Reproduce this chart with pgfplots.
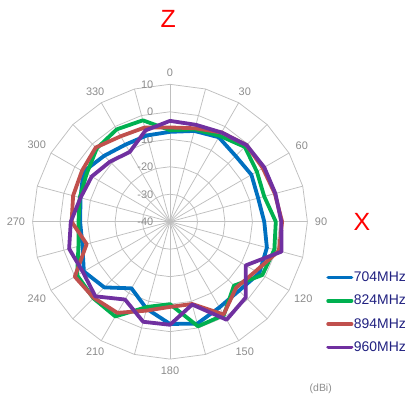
\documentclass[border=0pt]{standalone}
\usepackage{fontspec}
\setmainfont{Liberation Sans}
\usepackage{pgfplots}
\pgfplotsset{compat=1.18}
\usepackage{pgfplotstable}
\definecolor{c704}{RGB}{0,112,192}
\definecolor{c824}{RGB}{0,176,80}
\definecolor{c894}{RGB}{192,80,77}
\definecolor{c960}{RGB}{112,48,160}
\definecolor{gridc}{RGB}{191,191,191}
\definecolor{labc}{RGB}{140,140,140}
\definecolor{legc}{RGB}{32,32,128}

\pgfplotstableread{
a   v704   v824   v894   v960
0   -7.3   -6.7   -5.7   -3.3
15  -5.8   -5.2   -4.8   -3.5
30  -4.5   -3.9   -2.5   -2.5
45  -6.2   -1.5   -0.6   -0.6
60  -5.8   -3.5   -1.0   -0.4
75  -6.8   -4.5   -0.5   -0.3
90  -5.7   -1.5    0.8    0.5
105 -3.5   -0.7    1.0    2.0
120 -2.5   -1.2   -4.0   -8.2
135 -4.5   -7.1   -6.0   -1.0
150 -4.0   -0.8   -1.0    1.2
165 -1.6   -0.6   -9.0   -8.8
180 -2.8  -10.0   -9.0   -2.5
195 -7.2   -7.9   -6.5   -2.3
210 -12.0  -0.2   -1.7   -7.3
225 -6.2   -0.6   -0.8   -1.6
240 -3.8   -1.0    0.0   -3.4
255 -7.0   -5.5   -8.6   -2.0
270 -7.3   -6.7   -4.2   -3.9
285 -6.3   -6.0   -3.5   -6.3
300 -3.6   -5.0   -3.0   -7.1
315 -6.1   -2.3   -1.8   -9.1
330 -7.6   -1.2   -4.1  -10.7
345 -7.5   -1.8   -4.5   -5.6
360 -7.3   -6.7   -5.7   -3.3
}\data

\pgfplotstableread{
r  d
0  0
50 0
}\spoke

\begin{document}
\begin{tikzpicture}[
  gridline/.style={gridc, line width=0.75bp},
  lab/.style={font=\fontsize{11}{13}\selectfont, text=labc, inner sep=1bp},
  series/.style={line width=3.8bp, line join=round, line cap=round},
]
\begin{axis}[
  hide axis, clip=false,
  x=2.748bp, y=2.748bp,
  xmin=-61.86, xmax=88.79, ymin=-65.25, ymax=80.68,
  legend image code/.code={\draw[#1] (0bp,0bp) -- (23.3bp,0bp);},
  legend style={at={(axis cs:56.8,-18.0)}, anchor=north west, draw=none, fill=none,
    inner sep=0pt, font=\fontsize{14}{16}\selectfont, text=legc,
    row sep={23.3bp,between origins}, nodes={inner sep=0.5bp}},
  legend cell align=left,
]
\coordinate (SW) at (axis cs:-61.86,-65.25);
\coordinate (NE) at (axis cs:88.79,80.68);

\pgfplotsinvokeforeach{10,20,30,40,50}{
  \addplot[gridline, forget plot] table[x expr={#1*sin(\thisrow{a})}, y expr={#1*cos(\thisrow{a})}] {\data};
}
\pgfplotsinvokeforeach{0,15,30,45,60,75,90,105,120,135,150,165,180,195,210,225,240,255,270,285,300,315,330,345}{
  \addplot[gridline, forget plot] table[x expr={\thisrow{r}*sin(#1)}, y expr={\thisrow{r}*cos(#1)}] {\spoke};
}

\node[lab, anchor=270] at (axis cs:0,52.3) {0};
\node[lab, anchor=240] at (axis cs:26.15,45.29) {30};
\node[lab, anchor=210] at (axis cs:45.29,26.15) {60};
\node[lab, anchor=180] at (axis cs:52.3,0) {90};
\node[lab, anchor=150] at (axis cs:45.29,-26.15) {120};
\node[lab, anchor=120] at (axis cs:26.15,-45.29) {150};
\node[lab, anchor=90] at (axis cs:0,-52.3) {180};
\node[lab, anchor=60] at (axis cs:-26.15,-45.29) {210};
\node[lab, anchor=30] at (axis cs:-45.29,-26.15) {240};
\node[lab, anchor=0] at (axis cs:-52.3,0) {270};
\node[lab, anchor=330] at (axis cs:-45.29,26.15) {300};
\node[lab, anchor=300] at (axis cs:-26.15,45.29) {330};

\node[lab, anchor=east, inner sep=0pt] at (axis cs:-6.0,50) {10};
\node[lab, anchor=east, inner sep=0pt] at (axis cs:-6.0,40) {0};
\node[lab, anchor=east, inner sep=0pt] at (axis cs:-6.0,30) {-10};
\node[lab, anchor=east, inner sep=0pt] at (axis cs:-6.0,20) {-20};
\node[lab, anchor=east, inner sep=0pt] at (axis cs:-6.0,10) {-30};
\node[lab, anchor=east, inner sep=0pt] at (axis cs:-6.0,0) {-40};

\addplot[series, c704] table[x expr={(\thisrow{v704}+40)*sin(\thisrow{a})}, y expr={(\thisrow{v704}+40)*cos(\thisrow{a})}] {\data};
\addplot[series, c824] table[x expr={(\thisrow{v824}+40)*sin(\thisrow{a})}, y expr={(\thisrow{v824}+40)*cos(\thisrow{a})}] {\data};
\addplot[series, c894] table[x expr={(\thisrow{v894}+40)*sin(\thisrow{a})}, y expr={(\thisrow{v894}+40)*cos(\thisrow{a})}] {\data};
\addplot[series, c960] table[x expr={(\thisrow{v960}+40)*sin(\thisrow{a})}, y expr={(\thisrow{v960}+40)*cos(\thisrow{a})}] {\data};
\legend{704MHz,824MHz,894MHz,960MHz}

\node[text=red, font=\fontsize{25}{28}\selectfont, inner sep=0pt] at (axis cs:-0.6,73.8) {Z};
\node[text=red, font=\fontsize{25}{28}\selectfont, inner sep=0pt] at (axis cs:69.8,0) {X};
\node[lab, anchor=east, inner sep=0pt, font=\fontsize{10.5}{12}\selectfont] at (axis cs:58.95,-60.9) {(dBi)};
\end{axis}
\pgfresetboundingbox
\path (SW) rectangle (NE);
\end{tikzpicture}
\end{document}
